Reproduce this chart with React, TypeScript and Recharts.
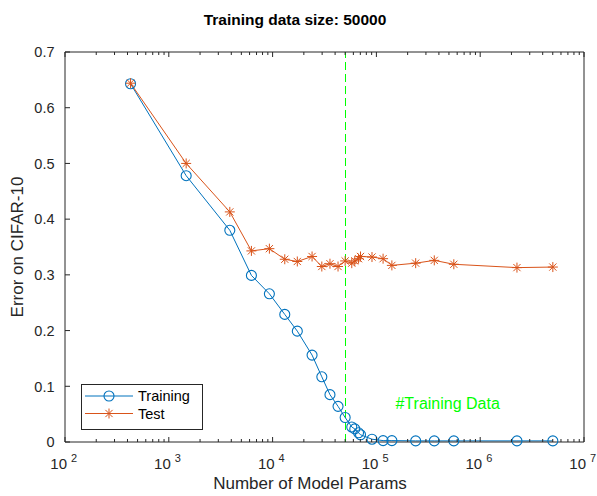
import React from 'react';
import { LineChart, Line, XAxis, YAxis, ReferenceLine, ReferenceDot, Legend } from 'recharts';

// number of model parameters (x, log scale)
const params = [
  428, 1470, 3870, 6250, 9310, 13100, 17300, 24000, 29800, 35700, 42700, 50000,
  57900, 61900, 67300, 70300, 90700, 116000, 141000, 239000, 361000, 557000, 2260000, 5010000
];
const trainError = [
  0.643, 0.478, 0.380, 0.299, 0.266, 0.229, 0.199, 0.156, 0.117, 0.085, 0.064, 0.044,
  0.027, 0.0235, 0.0165, 0.013, 0.005, 0.0025, 0.0025, 0.002, 0.002, 0.002, 0.002, 0.002
];
const testError = [
  0.644, 0.500, 0.413, 0.343, 0.347, 0.328, 0.324, 0.333, 0.315, 0.320, 0.315, 0.325,
  0.321, 0.325, 0.329, 0.333, 0.332, 0.329, 0.317, 0.321, 0.326, 0.319, 0.313, 0.314
];

const trainingSize = 50000;
const xMajorTicks = [1e2, 1e3, 1e4, 1e5, 1e6, 1e7];
const xMinorSteps = [2, 3, 4, 5, 6, 7, 8, 9];
const yTicks = [0, 0.1, 0.2, 0.3, 0.4, 0.5, 0.6, 0.7];

const xTicks = [
  ...xMajorTicks,
  ...xMajorTicks.slice(0, -1).flatMap(m => xMinorSteps.map(s => s * m)),
].sort((a, b) => a - b);

const data = params.map((p, i) => ({ params: p, train: trainError[i], test: testError[i] }));

const AXIS = '#262626';
const BLUE = '#0072BD';
const ORANGE = '#D95319';
const GREEN = '#00ff00';
const FONT = '"Liberation Sans", Arial, Helvetica, sans-serif';

const isMajor = (v: number) => xMajorTicks.includes(v);

const BottomTick = ({ x, y, payload }: any) => {
  const v = payload.value;
  const major = isMajor(v);
  return (
    <g>
      <line x1={x} x2={x} y1={y} y2={y - (major ? 5 : 3)} stroke={AXIS} />
      {major && (
        <g fill={AXIS} fontFamily={FONT}>
          <text x={x + 2} y={y + 26.5} textAnchor="end" fontSize={15}>10</text>
          <text x={x + 6} y={y + 19.5} textAnchor="start" fontSize={11}>{Math.round(Math.log10(v))}</text>
        </g>
      )}
    </g>
  );
};

const TopTick = ({ x, y, payload }: any) => (
  <line x1={x} x2={x} y1={y} y2={y + (isMajor(payload.value) ? 5 : 3)} stroke={AXIS} />
);

const LeftTick = ({ x, y, payload }: any) => (
  <g>
    <line x1={x} x2={x + 5} y1={y} y2={y} stroke={AXIS} />
    <text x={x - 10.5} y={y} dy="0.36em" textAnchor="end" fontSize={14.5} fontFamily={FONT} fill={AXIS}>
      {String(payload.value)}
    </text>
  </g>
);

const RightTick = ({ x, y }: any) => (
  <line x1={x} x2={x - 5} y1={y} y2={y} stroke={AXIS} />
);

const Star = ({ cx, cy, color, r = 5 }: { cx: number; cy: number; color: string; r?: number }) => {
  const d = r * 0.72;
  return (
    <g stroke={color} strokeWidth={1}>
      <line x1={cx - r} x2={cx + r} y1={cy} y2={cy} />
      <line x1={cx} x2={cx} y1={cy - r} y2={cy + r} />
      <line x1={cx - d} x2={cx + d} y1={cy - d} y2={cy + d} />
      <line x1={cx - d} x2={cx + d} y1={cy + d} y2={cy - d} />
    </g>
  );
};

const circleDot = (props: any) => (
  <circle key={`c-${props.index}`} cx={props.cx} cy={props.cy} r={5} fill="none" stroke={BLUE} strokeWidth={1.1} />
);

const starDot = (props: any) => (
  <Star key={`s-${props.index}`} cx={props.cx} cy={props.cy} color={ORANGE} />
);

const LegendBox = () => (
  <svg width={122} height={46} style={{ display: 'block' }}>
    <rect x={0.5} y={0.5} width={121} height={45} fill="#fff" stroke={AXIS} />
    <line x1={4} x2={52} y1={12} y2={12} stroke={BLUE} />
    <circle cx={28} cy={12} r={5} fill="none" stroke={BLUE} strokeWidth={1.1} />
    <text x={57} y={12} dy="0.36em" fontSize={14.5} fontFamily={FONT} fill="#000">Training</text>
    <line x1={4} x2={52} y1={29.5} y2={29.5} stroke={ORANGE} />
    <Star cx={28} cy={29.5} color={ORANGE} />
    <text x={57} y={29.5} dy="0.36em" fontSize={14.5} fontFamily={FONT} fill="#000">Test</text>
  </svg>
);

export default function App() {
  return (
    <div style={{ position: 'absolute', left: 0, top: 0, width: 597, height: 496, background: '#fff' }}>
      <svg width={597} height={496} style={{ position: 'absolute', left: 0, top: 0 }}>
        <text x={295} y={25} textAnchor="middle" fontSize={15.5} fontWeight="bold" fontFamily={FONT} fill="#000">
          Training data size: 50000
        </text>
        <text x={310} y={489} textAnchor="middle" fontSize={17} fontFamily={FONT} fill={AXIS}>
          Number of Model Params
        </text>
        <text
          x={17}
          y={247}
          textAnchor="middle"
          dominantBaseline="central"
          fontSize={17}
          fontFamily={FONT}
          fill={AXIS}
          transform="rotate(-90 17 247)"
        >
          Error on CIFAR-10
        </text>
      </svg>
      <div style={{ position: 'absolute', left: 0, top: 0 }}>
        <LineChart width={597} height={496} data={data} margin={{ top: 51, right: 12, bottom: 53, left: 64 }}>
          <XAxis
            dataKey="params"
            type="number"
            scale="log"
            domain={[100, 10000000]}
            allowDataOverflow
            ticks={xTicks}
            interval={0}
            height={1}
            tickSize={0}
            tickMargin={0}
            tickLine={false}
            tick={<BottomTick />}
            axisLine={{ stroke: AXIS }}
          />
          <XAxis
            xAxisId="top"
            orientation="top"
            dataKey="params"
            type="number"
            scale="log"
            domain={[100, 10000000]}
            allowDataOverflow
            ticks={xTicks}
            interval={0}
            height={1}
            tickSize={0}
            tickMargin={0}
            tickLine={false}
            tick={<TopTick />}
            axisLine={{ stroke: AXIS }}
          />
          <YAxis
            type="number"
            domain={[0, 0.7]}
            ticks={yTicks}
            interval={0}
            width={1}
            tickSize={0}
            tickMargin={0}
            tickLine={false}
            tick={<LeftTick />}
            axisLine={{ stroke: AXIS }}
          />
          <YAxis
            yAxisId="right"
            orientation="right"
            type="number"
            domain={[0, 0.7]}
            ticks={yTicks}
            interval={0}
            width={1}
            tickSize={0}
            tickMargin={0}
            tickLine={false}
            tick={<RightTick />}
            axisLine={{ stroke: AXIS }}
          />
          <ReferenceLine
            x={trainingSize}
            stroke={GREEN}
            strokeDasharray="8 4"
            strokeWidth={1}
            shapeRendering="crispEdges"
          />
          <Line
            type="linear"
            dataKey="train"
            stroke={BLUE}
            strokeWidth={1}
            dot={circleDot}
            activeDot={false}
            isAnimationActive={false}
          />
          <Line
            type="linear"
            dataKey="test"
            stroke={ORANGE}
            strokeWidth={1}
            dot={starDot}
            activeDot={false}
            isAnimationActive={false}
          />
          <ReferenceDot
            x={151000}
            y={0.0695}
            r={0.5}
            fill="none"
            stroke="none"
            label={{ value: '#Training Data', position: 'right', offset: 0, fill: GREEN, fontSize: 16, fontFamily: FONT }}
          />
          <Legend
            layout="horizontal"
            verticalAlign="middle"
            align="center"
            wrapperStyle={{ left: 81, top: 384, width: 122, height: 46 }}
            content={() => <LegendBox />}
          />
        </LineChart>
      </div>
    </div>
  );
}
